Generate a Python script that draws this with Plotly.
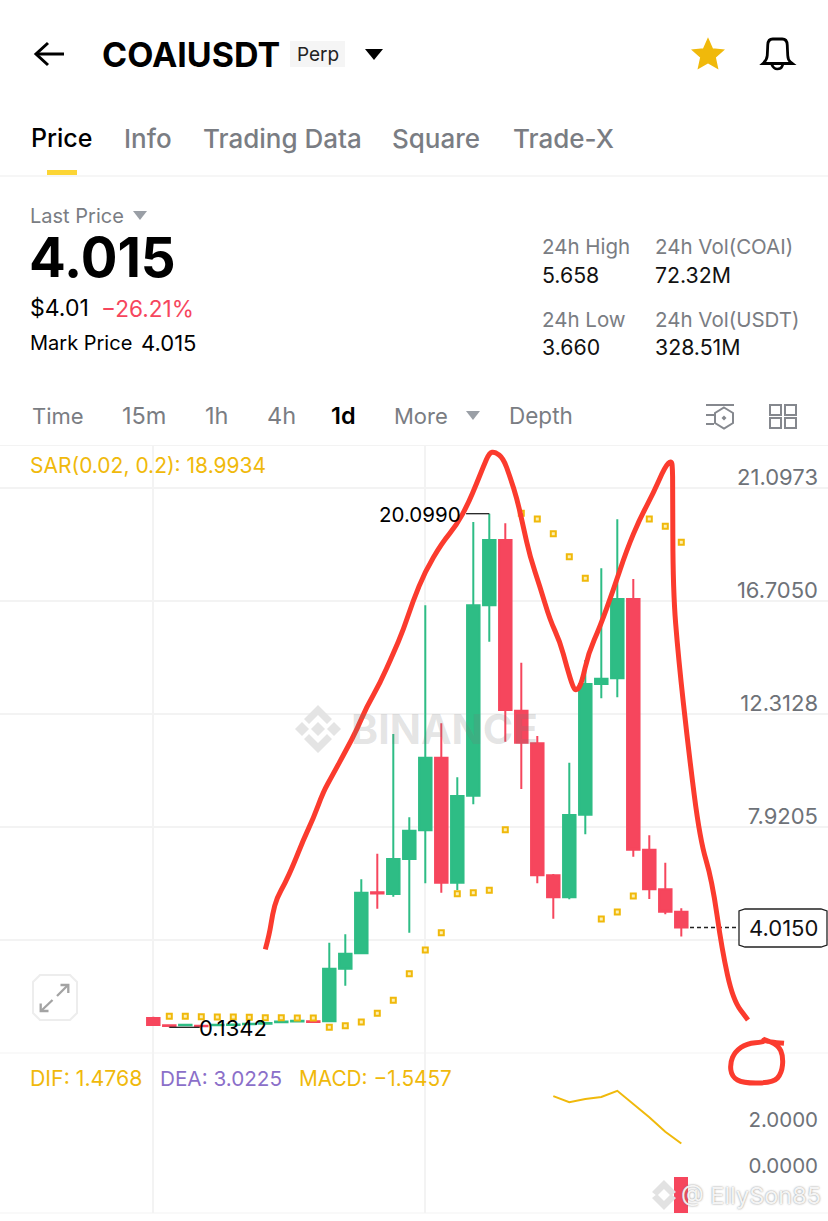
import math
import plotly.graph_objects as go
from plotly.subplots import make_subplots

W, H = 828, 1221
FONT = "Inter"
GREEN, RED = "#2EBD85", "#F6465D"
GOLD, PURPLE = "#F0B90B", "#8B6FC9"
GRAY, GRID, INK = "#7A7D83", "#F3F3F3", "#000000"

# ---- chart data (one entry per daily candle) ----
candle_index = list(range(34))
opens = [0.496, 0.21, 0.21, 0.20, 0.21, 0.22, 0.25, 0.27, 0.33, 0.36, 0.37, 0.37, 2.413, 3.012, 5.38, 5.316, 6.676,
         7.792, 10.614, 5.756, 9.138, 16.538, 19.076, 12.441, 11.174, 6.043, 5.188, 8.399, 13.479, 13.701, 16.783,
         7.038, 5.500, 4.628]
highs = [0.549, 0.25, 0.25, 0.22, 0.25, 0.27, 0.29, 0.33, 0.40, 0.42, 0.40, 3.424, 3.750, 5.888, 6.883, 11.536, 8.297,
         16.538, 11.951, 9.853, 19.776, 20.099, 19.725, 14.307, 11.458, 6.094, 10.421, 14.412, 17.976, 19.881, 17.560,
         7.598, 6.533, 4.760]
lows = [0.186, 0.1342, 0.18, 0.16, 0.19, 0.20, 0.23, 0.25, 0.30, 0.34, 0.32, 0.33, 1.752, 2.973, 4.745, 5.211, 3.812,
        5.732, 5.367, 5.472, 8.803, 15.123, 11.236, 9.397, 5.732, 4.358, 5.110, 7.637, 12.923, 12.962, 6.767,
        5.123, 4.527, 3.660]
closes = [0.224, 0.19, 0.23, 0.18, 0.23, 0.24, 0.27, 0.30, 0.36, 0.39, 0.34, 2.413, 2.996, 5.367, 5.34, 6.676, 7.776,
          10.614, 5.756, 9.126, 16.538, 19.076, 12.469, 11.197, 6.043, 5.188, 8.387, 13.479, 13.685, 16.783, 7.038,
          5.500, 4.628, 4.015]
sar_index = list(range(1, 34))
sar_values = [0.563, 0.563, 0.547, 0.536, 0.536, 0.524, 0.508, 0.508, 0.497, 0.497, 0.135, 0.197, 0.341, 0.679, 1.184,
              2.218, 3.139, 3.812, 5.328, 5.367, 5.460, 7.809, 20.114, 19.892, 19.321, 18.427, 17.587, 4.345, 4.617,
              5.239, 19.892, 19.609, 18.9934]
dif_index = [25, 26, 27, 28, 29, 30, 31, 32, 33]
dif_values = [3.54, 3.27, 3.41, 3.50, 3.77, 3.20, 2.62, 1.99, 1.4768]
macd_index = [33]
macd_values = [-1.5457]
price_ticks = [21.0973, 16.7050, 12.3128, 7.9205, 3.5283]
price_tick_labels = ["21.0973", "16.7050", "12.3128", "7.9205", ""]
macd_ticks = [2.0, 0.0]
macd_tick_labels = ["2.0000", "0.0000"]
last_price = 4.015
period_high = 20.099
period_low = 0.1342


def px(x):
    return x / W


def py(y):
    return 1 - y / H


def path(points, close=False, smooth=False):
    """Build a paper-coordinate SVG path from screen-overlay points."""
    p = [(px(x), py(y)) for x, y in points]
    s = f"M {p[0][0]:.5f} {p[0][1]:.5f}"
    if smooth:
        for a, b in zip(p[1:-1], p[2:]):
            s += f" Q {a[0]:.5f} {a[1]:.5f} {(a[0]+b[0])/2:.5f} {(a[1]+b[1])/2:.5f}"
        s += f" L {p[-1][0]:.5f} {p[-1][1]:.5f}"
    else:
        for a in p[1:]:
            s += f" L {a[0]:.5f} {a[1]:.5f}"
    return s + (" Z" if close else "")


fig = make_subplots(rows=2, cols=1, shared_xaxes=True)

fig.add_trace(go.Candlestick(
    x=candle_index, open=opens, high=highs, low=lows, close=closes, whiskerwidth=0,
    increasing=dict(line=dict(color=GREEN, width=2), fillcolor=GREEN),
    decreasing=dict(line=dict(color=RED, width=2), fillcolor=RED),
    showlegend=False), row=1, col=1)
fig.add_trace(go.Scatter(
    x=sar_index, y=sar_values, mode="markers", showlegend=False,
    marker=dict(symbol="square", size=5, color="#FCEFB4", line=dict(color=GOLD, width=2))), row=1, col=1)
fig.add_trace(go.Bar(x=macd_index, y=macd_values, width=0.875, marker=dict(color=RED, line_width=0),
                     showlegend=False), row=2, col=1)
fig.add_trace(go.Scatter(x=dif_index, y=dif_values, mode="lines", line=dict(color=GOLD, width=2),
                         showlegend=False), row=2, col=1)

shapes, notes = [], []


def text(x, y, s, size=21, color=INK, weight=400, anchor="left", **kw):
    font = dict(family=FONT, size=size, color=color, weight=weight)
    font.update(kw.pop("font", {}))
    shift = -2.5 if anchor == "left" else 0
    notes.append(dict(x=px(x), y=py(y), xref="paper", yref="paper", text=s, showarrow=False, xanchor=anchor,
                      xshift=shift, yanchor="middle", font=font, **kw))


def stroke(points, color=INK, width=2, close=False, smooth=False, fill=None, layer="above"):
    shapes.append(dict(type="path", xref="paper", yref="paper", path=path(points, close, smooth),
                       line=dict(color=color, width=width), fillcolor=fill, layer=layer))


def solid(points, color):
    shapes.append(dict(type="path", xref="paper", yref="paper", path=path(points, True),
                       line=dict(width=0), fillcolor=color))


def rect(x0, y0, x1, y1, fill=None, line=None, lw=1, layer="above"):
    shapes.append(dict(type="rect", xref="paper", yref="paper", x0=px(x0), x1=px(x1), y0=py(y0), y1=py(y1),
                       fillcolor=fill, line=dict(color=line, width=lw if line else 0), layer=layer))


# ---- app header ----
stroke([(36, 54), (64, 54)], width=3)
stroke([(48, 43), (36, 54), (48, 65)], width=3)
text(102.5, 54, "COAIUSDT", size=34, weight=700)
rect(290, 41, 345, 67, fill="#F5F5F5")
text(317.5, 54, "Perp", size=19, color="#222222", anchor="center")
solid([(365, 49), (383, 49), (374, 60)], INK)
star = [(708 + (16 if k % 2 == 0 else 7.5) * math.sin(k * math.pi / 5),
         55 - (16 if k % 2 == 0 else 7.5) * math.cos(k * math.pi / 5)) for k in range(10)]
stroke(star, color=GOLD, width=1.5, close=True, fill=GOLD)
stroke([(763, 63.5), (767, 60), (767.5, 51), (768, 39), (777.5, 39), (787, 39), (787.5, 51), (788, 60), (792.5, 63.5)],
       width=2.8, smooth=True, close=True)
stroke([(771.5, 64), (773.5, 69), (781, 69), (783, 64)], width=2.6, smooth=True)

tabs = [("Price", 31, INK, 25), ("Info", 124, GRAY, 26), ("Trading Data", 203, GRAY, 26), ("Square", 392, GRAY, 26),
        ("Trade-X", 513, GRAY, 26)]
for label, x, color, size in tabs:
    text(x, 138, label, size=size, color=color, weight=500)
rect(47, 170, 77, 175, fill="#FCD535")
rect(0, 175.5, W, 176.5, fill="#EEEEEE")

# ---- price summary ----
text(30, 216, "Last Price", size=20, color=GRAY)
solid([(133, 211), (147, 211), (140, 220)], "#9A9FA6")
text(29.5, 257, "4.015", size=54.5, weight=700)
text(30, 308, "$4.01", size=23)
text(101, 308, "−26.21%", size=22.6, color=RED)
text(30, 343, "Mark Price", size=20)
text(141, 343, "4.015", size=22)
for x, y, head, val in [(542, 247, "24h High", "5.658"), (655, 247, "24h Vol(COAI)", "72.32M"),
                        (542, 319, "24h Low", "3.660"), (655, 319, "24h Vol(USDT)", "328.51M")]:
    text(x, y, head, size=20.5, color=GRAY)
    text(x, y + 28, val, size=21.3, color="#111111")

# ---- interval toolbar ----
for label, x, color, weight, size in [("Time", 32, GRAY, 400, 22), ("15m", 122, GRAY, 400, 23.5),
                                      ("1h", 205, GRAY, 400, 23.5), ("4h", 267, GRAY, 400, 23.5),
                                      ("1d", 331, INK, 600, 23.5), ("More", 394, GRAY, 400, 22),
                                      ("Depth", 509, GRAY, 400, 22.5)]:
    text(x, 416, label, size=size, color=color, weight=weight)
solid([(466, 411), (480, 411), (473, 420)], "#9A9FA6")
ICON = "#85888E"
stroke([(706, 405), (734, 405)], color=ICON, width=2)
stroke([(706, 415), (716, 415)], color=ICON, width=2)
stroke([(706, 424), (714, 424)], color=ICON, width=2)
stroke([(724, 407.5), (733, 413), (733, 423), (724, 428.5), (715, 423), (715, 413)], color=ICON, width=2, close=True)
solid([(724, 415.5), (726.5, 418), (724, 420.5), (721.5, 418)], ICON)
for x, y in [(770, 405), (785, 405), (770, 418), (785, 418)]:
    rect(x, y, x + 11, y + 10, line=ICON, lw=2)

# ---- panel borders ----
for y in (445.5, 1053, 1213):
    rect(0, y - 0.5, W, y + 0.5, fill=GRID, layer="below")

# ---- watermarks ----
wm = "#E4E4E4"
solid([(318, 705), (332, 719), (327, 724), (318, 715), (309, 724), (304, 719)], wm)
solid([(318, 753), (332, 739), (327, 734), (318, 743), (309, 734), (304, 739)], wm)
solid([(318, 722), (325, 729), (318, 736), (311, 729)], wm)
solid([(302, 722), (309, 729), (302, 736), (295, 729)], wm)
solid([(334, 722), (341, 729), (334, 736), (327, 729)], wm)
text(351, 729, "BINANCE", size=41, color="rgba(120,120,120,0.2)", weight=700)

# ---- indicator legends ----
text(30, 465, "SAR(0.02, 0.2): 18.9934", size=21, color=GOLD)
text(30, 1078, "DIF: 1.4768", size=21.3, color=GOLD)
text(160, 1078, "DEA: 3.0225", size=20.7, color=PURPLE)
text(299, 1078, "MACD: −1.5457", size=20.8, color=GOLD)

# ---- high / low / last price callouts ----
shapes.append(dict(type="line", xref="x", yref="y", x0=19.55, x1=21, y0=period_high, y1=period_high,
                   line=dict(color="#222222", width=1.3)))
shapes.append(dict(type="line", xref="x", yref="y", x0=1, x1=2.9, y0=period_low, y1=period_low,
                   line=dict(color="#222222", width=1.3)))
notes.append(dict(x=19.4, y=period_high, xref="x", yref="y", text=f"{period_high:.4f}", showarrow=False, xanchor="right",
                  xshift=-1, yshift=-1, yanchor="middle", font=dict(family=FONT, size=20.5, color=INK)))
notes.append(dict(x=2.9, y=period_low, xref="x", yref="y", text=f"{period_low:.4f}", showarrow=False, xanchor="left",
                  xshift=-2.5, yshift=-1, yanchor="middle", font=dict(family=FONT, size=22, color=INK)))
shapes.append(dict(type="line", xref="paper", yref="y", x0=px(690), x1=px(739), y0=last_price, y1=last_price,
                   line=dict(color="#222222", width=1.3, dash="4px,3px")))
shapes.append(dict(type="path", xref="paper", yref="paper", fillcolor="white", line=dict(color="#222222", width=1.3),
                   path=path([(745, 909), (821, 909), (827, 911), (827, 945), (821, 947), (745, 947), (739, 945),
                              (739, 911)], True)))
text(783.5, 928, f"{last_price:.4f}", size=22, color="#111111", anchor="center")

# ---- expand button ----
shapes.append(dict(type="path", xref="paper", yref="paper", fillcolor="white", line=dict(color="#EDEDED", width=2),
                   path=path([(40, 975), (70, 975), (77, 982), (77, 1013), (70, 1020), (40, 1020), (33, 1013),
                              (33, 982)], True)))
ARROW = "#A3A3A3"
stroke([(57, 996), (68, 985)], color=ARROW, width=2.3)
stroke([(60.5, 985), (68.3, 985), (68.3, 993)], color=ARROW, width=2.3)
stroke([(41, 1011), (52.5, 1000)], color=ARROW, width=2.3)
stroke([(40.7, 1003.5), (40.7, 1011), (48.5, 1011)], color=ARROW, width=2.3)

# ---- hand-drawn screenshot scribble ----
scribble = [(265.3, 949.3), (269.3, 935), (272.7, 913.3), (276.7, 898.3), (285, 883.3), (293.3, 865), (303.3, 840),
            (313.3, 818.3), (323.3, 791.7), (331.7, 776.7), (346.7, 749), (356.7, 730), (366.7, 706.7), (380, 683.3),
            (393.3, 653.3), (403.3, 630), (413, 601), (425, 571.7), (441.7, 543.3), (456.7, 525), (468.3, 503.3),
            (476.7, 483.3), (483.3, 466.7), (489.3, 452.7), (495, 451.7), (503.3, 458.3), (510, 476.7), (517.3, 500),
            (523.3, 526.7), (530, 556.7), (540, 586.7), (550, 620), (560, 641.7), (566.7, 666.7), (573.3, 688.3),
            (576.7, 690.7), (581.7, 683.3), (588.3, 653.3), (600, 626.7), (613.3, 590), (626.7, 550), (640, 518.3),
            (653.3, 493.3), (665, 466.7), (671.7, 460), (672.5, 470), (672.7, 483.3), (673, 590), (678.3, 656.7),
            (688.5, 750), (700, 840), (712, 880), (722, 950), (733, 1000), (748, 1020)]
loop = [(784, 1043.3), (766.7, 1041.7), (763.3, 1039.3), (764, 1042), (746.7, 1043.3), (735, 1051.7), (730, 1063.3),
        (731.7, 1076.7), (743.3, 1083.3), (773.3, 1082.7), (781.7, 1073.3), (783.3, 1056.7), (778.3, 1045), (763, 1039)]
RED_INK = "#FB3B2E"
stroke(scribble, color=RED_INK, width=5, smooth=True)
stroke(loop, color=RED_INK, width=5, smooth=True)

# ---- author watermark ----
lg = "#E2E2E2"
solid([(664, 1180), (676, 1192), (671, 1196), (664, 1189), (657, 1196), (652, 1192)], lg)
solid([(664, 1210), (676, 1198), (671, 1194), (664, 1201), (657, 1194), (652, 1198)], lg)
text(681, 1195, "@ EllySon85", size=23.5, color="rgba(255,255,255,0.9)",
     font=dict(shadow="0 0 2px #777777"))

# ---- scales: 16 px per candle, first candle at x=153.3 ----
x_range = [-153.3 / 16, (W - 153.3) / 16]
fig.update_xaxes(range=x_range, tickvals=[0, 17], showgrid=True, gridcolor=GRID, gridwidth=1.5, showticklabels=False,
                 ticks="", zeroline=False, showline=False, rangeslider_visible=False)
axis_common = dict(side="right", ticklabelposition="inside top", ticks="", showline=False, zeroline=False,
                   ticklabelstandoff=7)
fig.update_layout(
    width=W, height=H, margin=dict(l=0, r=0, t=0, b=0), paper_bgcolor="white", plot_bgcolor="white",
    boxmode="overlay", boxgap=0.22, boxgroupgap=0, bargap=0, showlegend=False, dragmode=False, shapes=shapes,
    annotations=notes, font=dict(family=FONT),
    yaxis=dict(domain=[py(1053), py(446)], range=[-0.864, 22.73], tickmode="array", tickvals=price_ticks,
               ticktext=price_tick_labels, showgrid=True, gridcolor=GRID, gridwidth=1.5, ticklabelshift=5,
               tickfont=dict(family=FONT, size=22, color="#6E7278"), **axis_common),
    yaxis2=dict(domain=[py(1213), py(1053)], range=[-1.5457, 5.413], tickmode="array", tickvals=macd_ticks,
                ticktext=macd_tick_labels, showgrid=False, ticklabelshift=3,
                tickfont=dict(family=FONT, size=20.5, color="#6E7278"), **axis_common),
)
fig.write_html("out.html", config={"displayModeBar": False},
               post_script="document.body.style.margin='0';document.body.style.overflow='hidden';")
